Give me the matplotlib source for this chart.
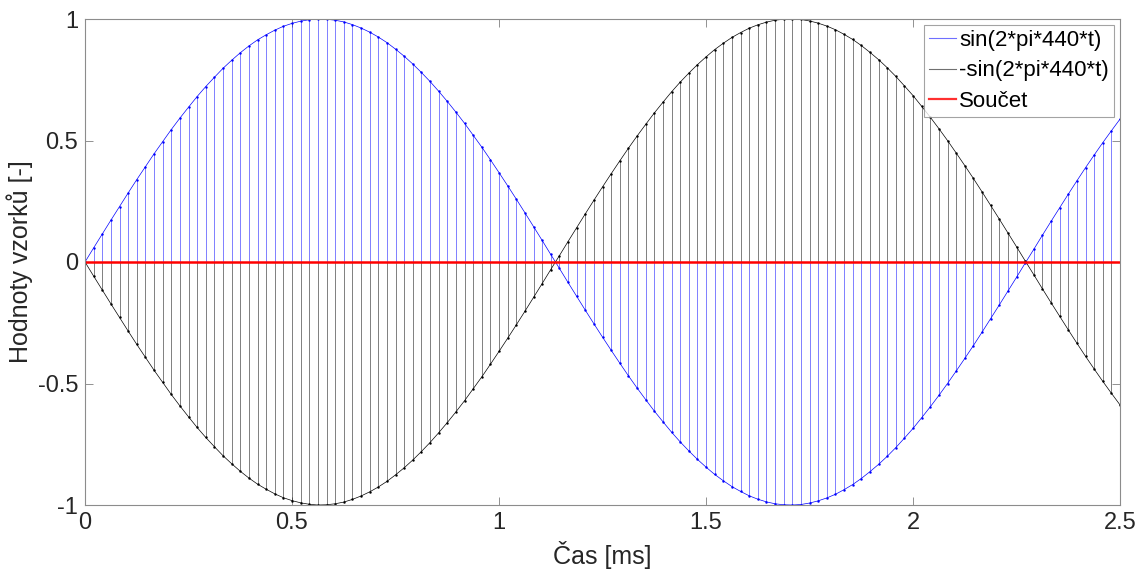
import numpy as np
import matplotlib
matplotlib.use("Agg")
import matplotlib.pyplot as plt

plt.rcParams['font.family'] = ['Liberation Sans', 'DejaVu Sans']
plt.rcParams['axes.unicode_minus'] = False

# sampling: 48 kHz, 0 .. 2.5 ms
sample_rate_khz = 48
n_samples = 121

sin_vals = [
    0.000, 0.058, 0.115, 0.172, 0.228, 0.284, 0.339, 0.392, 0.445, 0.495,
    0.545, 0.592, 0.637, 0.681, 0.722, 0.760, 0.797, 0.830, 0.861, 0.889,
    0.914, 0.935, 0.954, 0.970, 0.982, 0.991, 0.997, 1.000, 0.999, 0.995,
    0.988, 0.977, 0.963, 0.946, 0.926, 0.903, 0.876, 0.847, 0.815, 0.780,
    0.743, 0.703, 0.661, 0.617, 0.571, 0.522, 0.473, 0.421, 0.368, 0.314,
    0.259, 0.203, 0.146, 0.089, 0.031, -0.026, -0.084, -0.141, -0.198, -0.254,
    -0.309, -0.363, -0.416, -0.468, -0.518, -0.566, -0.613, -0.657, -0.700, -0.740,
    -0.777, -0.812, -0.844, -0.874, -0.900, -0.924, -0.944, -0.962, -0.976, -0.987,
    -0.995, -0.999, -1.000, -0.998, -0.992, -0.983, -0.971, -0.956, -0.937, -0.916,
    -0.891, -0.863, -0.833, -0.800, -0.764, -0.725, -0.685, -0.641, -0.596, -0.549,
    -0.500, -0.449, -0.397, -0.344, -0.289, -0.233, -0.177, -0.120, -0.063, -0.005,
    0.052, 0.110, 0.167, 0.223, 0.279, 0.334, 0.388, 0.440, 0.491, 0.540,
    0.588,
]
neg_sin_vals = [
    -0.000, -0.058, -0.115, -0.172, -0.228, -0.284, -0.339, -0.392, -0.445, -0.495,
    -0.545, -0.592, -0.637, -0.681, -0.722, -0.760, -0.797, -0.830, -0.861, -0.889,
    -0.914, -0.935, -0.954, -0.970, -0.982, -0.991, -0.997, -1.000, -0.999, -0.995,
    -0.988, -0.977, -0.963, -0.946, -0.926, -0.903, -0.876, -0.847, -0.815, -0.780,
    -0.743, -0.703, -0.661, -0.617, -0.571, -0.522, -0.473, -0.421, -0.368, -0.314,
    -0.259, -0.203, -0.146, -0.089, -0.031, 0.026, 0.084, 0.141, 0.198, 0.254,
    0.309, 0.363, 0.416, 0.468, 0.518, 0.566, 0.613, 0.657, 0.700, 0.740,
    0.777, 0.812, 0.844, 0.874, 0.900, 0.924, 0.944, 0.962, 0.976, 0.987,
    0.995, 0.999, 1.000, 0.998, 0.992, 0.983, 0.971, 0.956, 0.937, 0.916,
    0.891, 0.863, 0.833, 0.800, 0.764, 0.725, 0.685, 0.641, 0.596, 0.549,
    0.500, 0.449, 0.397, 0.344, 0.289, 0.233, 0.177, 0.120, 0.063, 0.005,
    -0.052, -0.110, -0.167, -0.223, -0.279, -0.334, -0.388, -0.440, -0.491, -0.540,
    -0.588,
]
series_labels = ['sin(2*pi*440*t)', '-sin(2*pi*440*t)', 'Součet']
x_ticks = [0, 0.5, 1, 1.5, 2, 2.5]
x_tick_labels = ['0', '0.5', '1', '1.5', '2', '2.5']
y_ticks = [-1, -0.5, 0, 0.5, 1]
y_tick_labels = ['-1', '-0.5', '0', '0.5', '1']

t = np.arange(n_samples) / sample_rate_khz
y1 = np.array(sin_vals)
y2 = np.array(neg_sin_vals)
total = y1 + y2

fig = plt.figure(figsize=(11.46, 5.72), dpi=100)
ax = fig.add_axes([85/1146, 1 - 505/572, (1120-85)/1146, (505-19)/572])

ax.vlines(t, 0, y1, colors='#0000ff', linewidth=0.5, alpha=0.7)
l1, = ax.plot(t, y1, color='#0000ff', linewidth=0.5, marker='.', markersize=1.5)
ax.vlines(t, 0, y2, colors='#000000', linewidth=0.5, alpha=0.7)
l2, = ax.plot(t, y2, color='#000000', linewidth=0.5, marker='.', markersize=1.5)
l3, = ax.plot(t, total, color='#ff0000', linewidth=1.8)

ax.set_xlim(0, 2.5)
ax.set_ylim(-1, 1)
ax.set_xticks(x_ticks)
ax.set_xticklabels(x_tick_labels)
ax.set_yticks(y_ticks)
ax.set_yticklabels(y_tick_labels)
ax.tick_params(direction='in', length=6, width=0.6, colors='#808080',
               labelcolor='#262626', labelsize=17, top=True, right=True, pad=5)
for s in ax.spines.values():
    s.set_color('#8c8c8c')
    s.set_linewidth(0.8)

ax.set_xlabel('Čas [ms]', fontsize=18, color='#262626', labelpad=5)
ax.set_ylabel('Hodnoty vzorků [-]', fontsize=18, color='#262626', labelpad=3)

leg = ax.legend([l1, l2, l3], series_labels, loc='upper right', fontsize=16,
                frameon=True, fancybox=False, edgecolor='#8c8c8c',
                handlelength=1.2, handletextpad=0.15, borderpad=0.25,
                labelspacing=0.42, borderaxespad=0.25)
leg.get_frame().set_linewidth(0.8)
for txt in leg.get_texts():
    txt.set_color('#000000')
handle_colors = ['#6f6fff', '#707070', '#ff3030']
handle_widths = [0.8, 0.8, 1.6]
for h, c, w in zip(leg.legend_handles, handle_colors, handle_widths):
    h.set_marker('')
    h.set_color(c)
    h.set_linewidth(w)

fig.savefig('out.png', dpi=100)
